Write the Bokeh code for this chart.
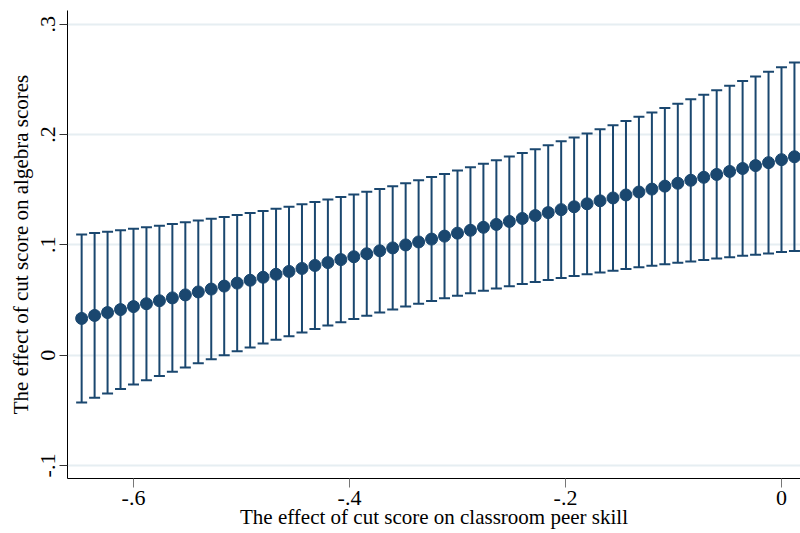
from bokeh.plotting import figure
from bokeh.models import ColumnDataSource, Whisker, TeeHead, FixedTicker, Range1d
from bokeh.embed import file_html
from bokeh.resources import INLINE

# Values of classroom peer skill effect (x) and marginal effects with 95% CI
peer_skill = [-0.648, -0.636, -0.624, -0.612, -0.600, -0.588, -0.576, -0.564,
              -0.552, -0.540, -0.528, -0.516, -0.504, -0.492, -0.480, -0.468,
              -0.456, -0.444, -0.432, -0.420, -0.408, -0.396, -0.384, -0.372,
              -0.360, -0.348, -0.336, -0.324, -0.312, -0.300, -0.288, -0.276,
              -0.264, -0.252, -0.240, -0.228, -0.216, -0.204, -0.192, -0.180,
              -0.168, -0.156, -0.144, -0.132, -0.120, -0.108, -0.096, -0.084,
              -0.072, -0.060, -0.048, -0.036, -0.024, -0.012, 0.000, 0.012]

effect = [0.0333, 0.0360, 0.0386, 0.0413, 0.0440, 0.0466, 0.0493, 0.0519,
          0.0546, 0.0573, 0.0599, 0.0626, 0.0653, 0.0679, 0.0706, 0.0733,
          0.0759, 0.0786, 0.0813, 0.0839, 0.0866, 0.0892, 0.0919, 0.0946,
          0.0972, 0.0999, 0.1026, 0.1052, 0.1079, 0.1106, 0.1132, 0.1159,
          0.1185, 0.1212, 0.1239, 0.1265, 0.1292, 0.1319, 0.1345, 0.1372,
          0.1399, 0.1425, 0.1452, 0.1479, 0.1505, 0.1532, 0.1558, 0.1585,
          0.1612, 0.1638, 0.1665, 0.1692, 0.1718, 0.1745, 0.1772, 0.1798]

ci_lower = [-0.0428, -0.0387, -0.0347, -0.0307, -0.0266, -0.0228, -0.0188, -0.0151,
            -0.0112, -0.0074, -0.0038, -0.0001, 0.0035, 0.0070, 0.0105, 0.0139,
            0.0172, 0.0205, 0.0238, 0.0268, 0.0299, 0.0328, 0.0358, 0.0386,
            0.0413, 0.0440, 0.0466, 0.0490, 0.0515, 0.0539, 0.0561, 0.0583,
            0.0604, 0.0624, 0.0645, 0.0663, 0.0682, 0.0700, 0.0717, 0.0734,
            0.0750, 0.0766, 0.0781, 0.0796, 0.0810, 0.0824, 0.0837, 0.0850,
            0.0863, 0.0875, 0.0888, 0.0900, 0.0911, 0.0922, 0.0934, 0.0944]

ci_upper = [0.1094, 0.1107, 0.1119, 0.1133, 0.1146, 0.1160, 0.1174, 0.1189,
            0.1204, 0.1220, 0.1236, 0.1253, 0.1271, 0.1288, 0.1307, 0.1327,
            0.1346, 0.1367, 0.1388, 0.1410, 0.1433, 0.1456, 0.1480, 0.1506,
            0.1531, 0.1558, 0.1586, 0.1614, 0.1643, 0.1673, 0.1703, 0.1735,
            0.1766, 0.1800, 0.1833, 0.1867, 0.1902, 0.1938, 0.1973, 0.2010,
            0.2048, 0.2084, 0.2123, 0.2162, 0.2200, 0.2240, 0.2279, 0.2320,
            0.2361, 0.2401, 0.2442, 0.2484, 0.2525, 0.2568, 0.2610, 0.2652]

x_ticks = [-0.6, -0.4, -0.2, 0.0]
x_tick_labels = ["-.6", "-.4", "-.2", "0"]
y_ticks = [-0.1, 0.0, 0.1, 0.2, 0.3]
y_tick_labels = ["-.1", "0", ".1", ".2", ".3"]

x_label = "The effect of cut score on classroom peer skill"
y_label = "The effect of cut score on algebra scores"

NAVY = "#1a476f"
FONT = "Liberation Serif"

src = ColumnDataSource(dict(x=peer_skill, y=effect, lo=ci_lower, hi=ci_upper))

p = figure(width=800, height=533, output_backend="svg", toolbar_location=None,
           x_range=Range1d(-0.6611, 0.0176), y_range=Range1d(-0.1118, 0.3124),
           min_border_left=67, min_border_right=0, min_border_top=10,
           min_border_bottom=55)
p.outline_line_color = None
p.background_fill_color = "white"
p.border_fill_color = "white"

whisk = Whisker(source=src, base="x", upper="hi", lower="lo",
                line_color=NAVY, line_width=2,
                upper_head=TeeHead(size=11, line_color=NAVY, line_width=2),
                lower_head=TeeHead(size=11, line_color=NAVY, line_width=2))
p.add_layout(whisk)
p.scatter("x", "y", source=src, size=12, color=NAVY)

# grid
p.xgrid.grid_line_color = None
p.ygrid.grid_line_color = "#e6eef2"
p.ygrid.grid_line_width = 2

# axes
p.xaxis.ticker = FixedTicker(ticks=x_ticks)
p.xaxis.major_label_overrides = dict(zip(x_ticks, x_tick_labels))
p.yaxis.ticker = FixedTicker(ticks=y_ticks)
p.yaxis.major_label_overrides = dict(zip(y_ticks, y_tick_labels))
p.yaxis.major_label_orientation = "vertical"

for ax in (p.xaxis[0], p.yaxis[0]):
    ax.axis_line_color = "black"
    ax.axis_line_width = 1
    ax.major_tick_in = 0
    ax.minor_tick_line_color = None
    ax.major_label_text_font = FONT
    ax.major_label_text_font_size = "22px"
    ax.major_label_text_color = "black"
    ax.axis_label_text_font = FONT
    ax.axis_label_text_font_size = "21px"
    ax.axis_label_text_font_style = "normal"
    ax.axis_label_text_color = "black"

p.xaxis.major_tick_out = 9
p.xaxis.major_tick_line_color = "#777777"
p.yaxis.major_tick_out = 8
p.yaxis.major_tick_line_color = "#333333"
p.xaxis.major_label_standoff = 3
p.xaxis.axis_label_standoff = -3
p.yaxis.major_label_standoff = 4
p.yaxis.axis_label_standoff = 6
p.xaxis.axis_label = x_label
p.yaxis.axis_label = y_label

open("out.html", "w").write(file_html(p, INLINE))
